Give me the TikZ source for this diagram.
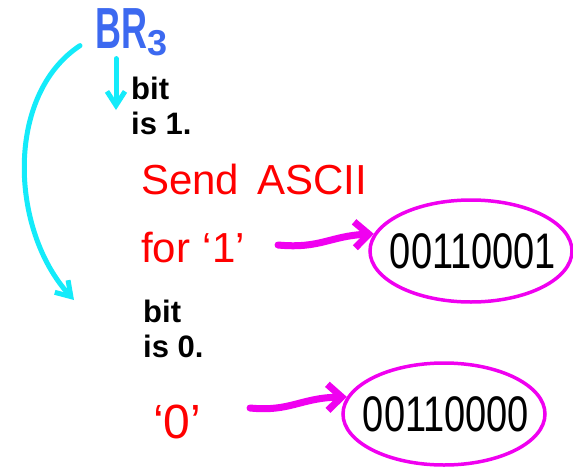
\documentclass[tikz,border=0pt]{standalone}
\usepackage{fontspec}
\setmainfont{Liberation Sans}
\usepackage{graphicx}
\usetikzlibrary{arrows.meta,shapes.geometric}
\definecolor{hblue}{RGB}{60,105,240}
\definecolor{hcyan}{RGB}{20,235,250}
\definecolor{hmag}{RGB}{240,0,240}
\definecolor{hred}{RGB}{255,0,0}
\begin{document}
\begin{tikzpicture}[x=1pt,y=-1pt,
 lbl/.style={inner sep=0pt, align=left, font=\fontsize{31}{35}\selectfont\bfseries},
 hand/.style={inner sep=0pt, text=hred, font=\fontsize{42}{42}\selectfont},
 bits/.style={ellipse, draw=hmag, line width=3.5pt, minimum width=202pt, minimum height=102pt, inner sep=0pt},
 bitstext/.style={inner sep=0pt, font=\fontsize{50}{50}\selectfont},
 cyanarrow/.style={draw=hcyan, line width=5pt, line cap=round, -{Straight Barb[length=14pt,width=18pt]}},
 magarrow/.style={draw=hmag, line width=7pt, line cap=round, -{Straight Barb[length=14pt,width=26pt]}}
]
\useasboundingbox (0,0) rectangle (573,469);
\node[anchor=base west, inner sep=0pt, text=hblue, font=\fontsize{58}{58}\selectfont\bfseries] (br) at (95,48) {\scalebox{0.62}[1]{BR}\raisebox{-7pt}{\fontsize{36}{36}\selectfont 3}};
\node[lbl, anchor=north west] (bit1) at (131,77) {bit\\is 1.};
\node[hand, anchor=base west] (send) at (141,194) {Send\hspace{0.15em} ASCII};
\node[hand, anchor=base west] (for1) at (141,262) {for\hspace{0.3em}‘1’};
\node[bits] (e1) at (471,251) {};
\node[bitstext] (t1) at ([xshift=2pt]e1.center) {\scalebox{0.76}[1]{00110001}};
\node[lbl, anchor=north west] (bit0) at (143,300) {bit\\is 0.};
\node[hand, font=\fontsize{48}{48}\selectfont, anchor=base west] (zero) at (153,438) {‘0’};
\node[bits] (e2) at (444,414) {};
\node[bitstext] (t2) at ([xshift=2pt]e2.center) {\scalebox{0.76}[1]{00110000}};
\coordinate (c1) at (116,110);
\coordinate (c2) at (74,300);
\coordinate (a1) at (278,245);
\coordinate (a2) at (250,408);
\draw[cyanarrow] ([xshift=21pt,yshift=-3pt]br.south west) -- (c1);
\draw[cyanarrow] ([xshift=-15pt,yshift=10pt]br.south west) .. controls (5,95) and (10,230) .. (c2);
\draw[magarrow] (a1) .. controls (320,249) and (330,236) .. (e1.170);
\draw[magarrow] (a2) .. controls (290,412) and (300,398) .. (e2.170);
\end{tikzpicture}
\end{document}
